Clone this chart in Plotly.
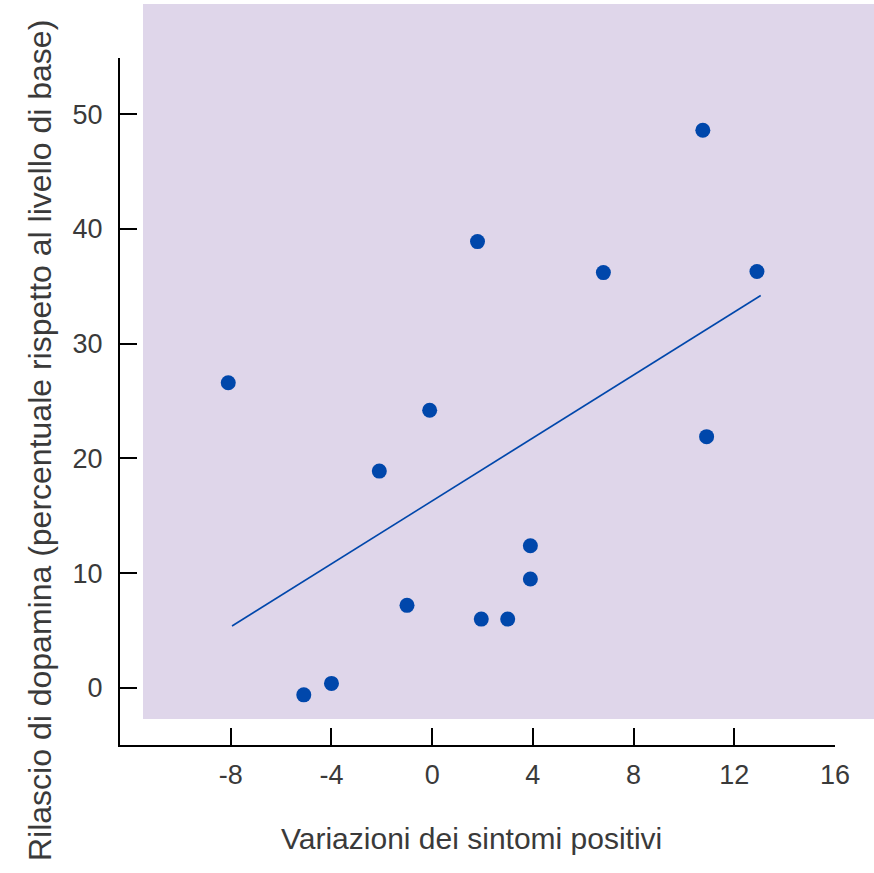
import plotly.graph_objects as go

# Data
sintomi = [-8.1, -5.1, -4.0, -2.1, -1.0, -0.1, 1.8, 1.95, 3.0, 3.9, 3.9, 6.8, 10.75, 10.9, 12.9]
dopamina = [26.6, -0.6, 0.4, 18.9, 7.2, 24.2, 38.9, 6.0, 6.0, 12.4, 9.5, 36.2, 48.6, 21.9, 36.3]
fit_x = [-7.95, 13.05]
fit_y = [5.4, 34.2]
x_ticks = [-8, -4, 0, 4, 8, 12, 16]
y_ticks = [0, 10, 20, 30, 40, 50]

blue = "#0047AB"
lavender = "#DFD6EA"
txt = "#3a3a3a"
font = "Liberation Sans, Arial, sans-serif"

fig = go.Figure()
fig.add_trace(go.Scatter(x=fit_x, y=fit_y, mode="lines",
                         line=dict(color=blue, width=1.6), showlegend=False))
fig.add_trace(go.Scatter(x=sintomi, y=dopamina, mode="markers",
                         marker=dict(color=blue, size=15, symbol="circle"),
                         showlegend=False))

W, H = 874, 873
L, R, T, B = 120, 39, 58, 128
pw, ph = W - L - R, H - T - B

def px(x):
    return (x - L) / pw

def py(y):
    return (H - B - y) / ph

fig.add_shape(type="rect", xref="paper", yref="paper",
              x0=px(143), x1=px(880), y0=py(719), y1=py(4),
              fillcolor=lavender, line=dict(width=0), layer="below")

fig.update_layout(
    width=W, height=H,
    margin=dict(l=L, r=R, t=T, b=B),
    paper_bgcolor="white", plot_bgcolor="rgba(0,0,0,0)",
    font=dict(family=font, size=27, color=txt),
    xaxis=dict(range=[-12.4, 16], tickvals=x_ticks, ticktext=[str(v) for v in x_ticks],
               showgrid=False, zeroline=False, showline=True, linecolor="black", linewidth=2,
               ticks="inside", ticklen=17, tickwidth=2, tickcolor="black",
               tickfont=dict(size=27, color=txt), ticklabelstandoff=5),
    yaxis=dict(range=[-4.97, 54.9], tickvals=y_ticks, ticktext=[str(v) for v in y_ticks],
               showgrid=False, zeroline=False, showline=True, linecolor="black", linewidth=2,
               ticks="inside", ticklen=17, tickwidth=2, tickcolor="black",
               tickfont=dict(size=27, color=txt), ticklabelstandoff=10),
    annotations=[
        dict(text="Variazioni dei sintomi positivi", xref="paper", yref="paper",
             x=px(471), y=py(838), showarrow=False, xanchor="center", yanchor="middle",
             font=dict(size=30, color=txt)),
        dict(text="Rilascio di dopamina (percentuale rispetto al livello di base)",
             xref="paper", yref="paper", x=px(40), y=py(441), textangle=-90,
             showarrow=False, xanchor="center", yanchor="middle",
             font=dict(size=32, color=txt)),
    ],
)

fig.write_html("out.html")
